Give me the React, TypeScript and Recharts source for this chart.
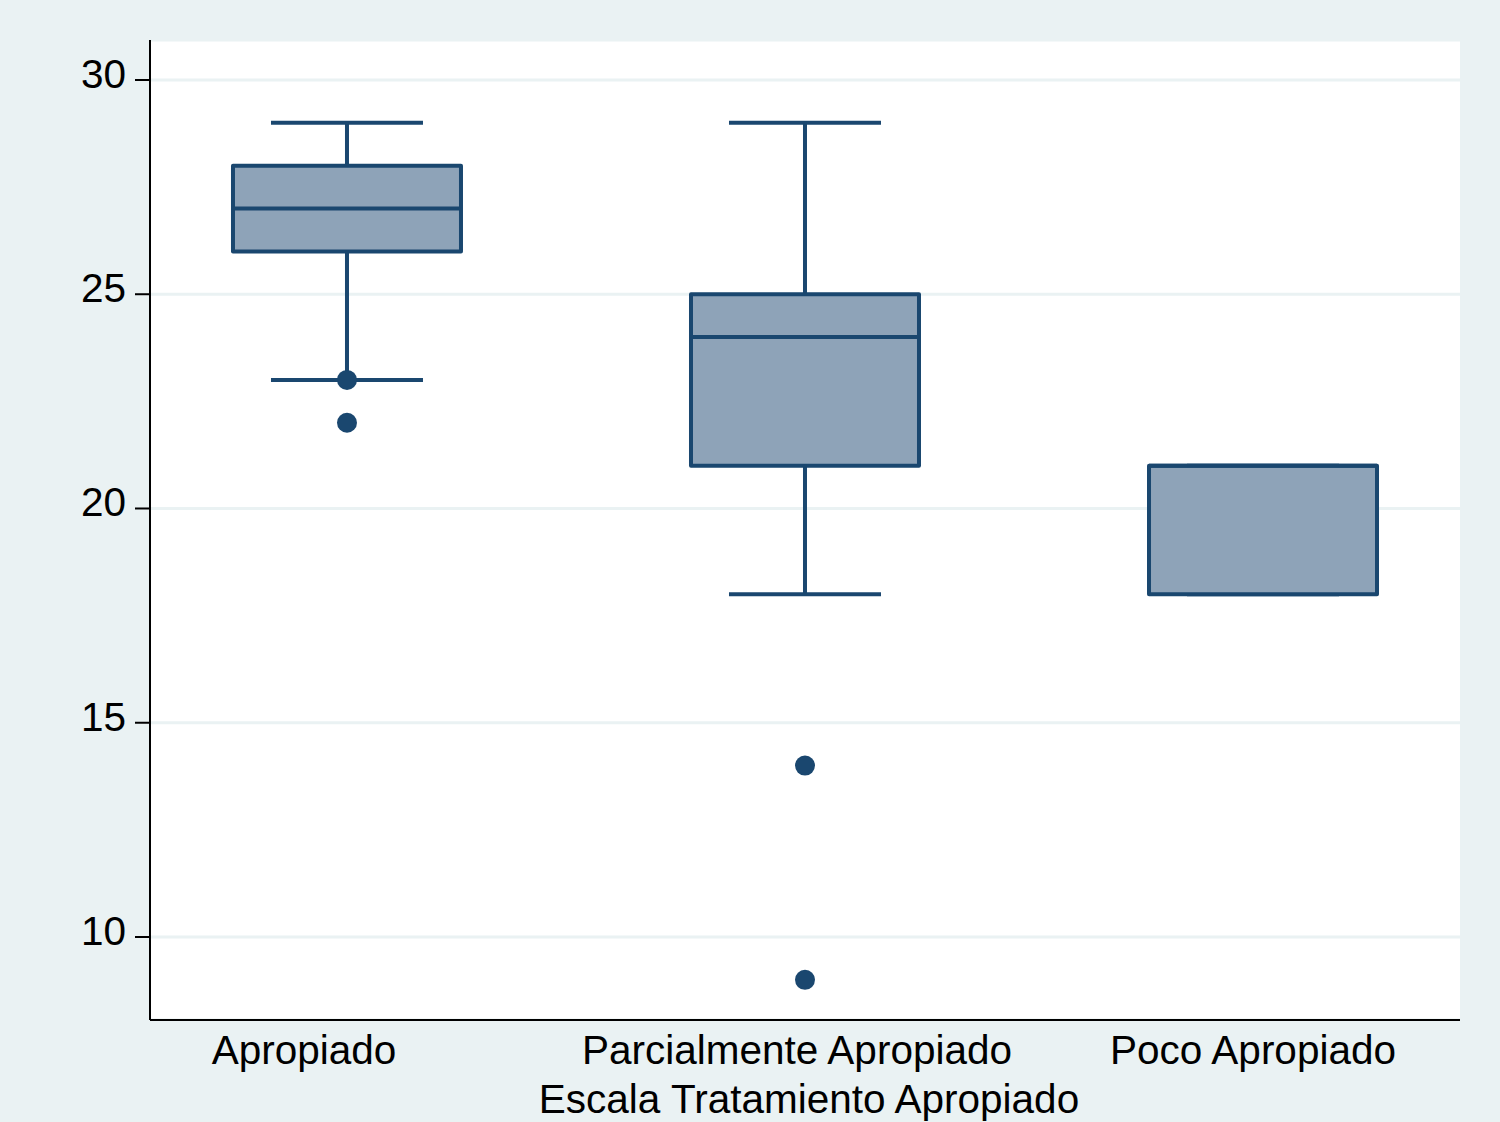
import React from "react";
import {
  ComposedChart,
  Bar,
  Scatter,
  XAxis,
  YAxis,
  CartesianGrid,
} from "recharts";

const categories = ["Apropiado", "Parcialmente Apropiado", "Poco Apropiado"];
const whiskerLow = [23, 18, 18];
const quartile1 = [26, 21, 18];
const medians = [27, 24, 21];
const quartile3 = [28, 25, 21];
const whiskerHigh = [29, 29, 21];

const outlierGroup = [1, 1, 2, 2];
const outlierValues = [23, 22, 14, 9];

const yTicks = [10, 15, 20, 25, 30];

const boxData = categories.map((name, i) => ({
  pos: i + 1,
  name,
  box: [quartile1[i], quartile3[i]],
  whisker: [whiskerLow[i], whiskerHigh[i]],
  q1: quartile1[i],
  q3: quartile3[i],
  median: medians[i],
}));

const outliers = outlierValues.map((v, i) => ({ pos: outlierGroup[i], value: v }));

const NAVY = "#1a476f";
const FILL = "#8ea3b8";
const BG = "#eaf2f3";
const FONT = "'Liberation Sans', Arial, Helvetica, sans-serif";

// small nudges so the labels sit where Stata put them
const labelShift = [-43, -8, -10];

function BoxShape(props: any) {
  const { x, y, width, height, payload } = props;
  const span = payload.q3 - payload.q1;
  const my = span > 0 ? y + ((payload.q3 - payload.median) / span) * height : y;
  return (
    <g>
      <rect x={x} y={y} width={width} height={height} fill={FILL} stroke={NAVY} strokeWidth={4} strokeLinejoin="round" />
      <line x1={x} x2={x + width} y1={my} y2={my} stroke={NAVY} strokeWidth={4} />
    </g>
  );
}

function WhiskerShape(props: any) {
  const { x, y, width, height } = props;
  const cx = x + width / 2;
  const cap = (width * 2) / 3;
  return (
    <g stroke={NAVY} strokeWidth={4}>
      <line x1={cx} x2={cx} y1={y} y2={y + height} />
      <line x1={cx - cap / 2} x2={cx + cap / 2} y1={y} y2={y} />
      <line x1={cx - cap / 2} x2={cx + cap / 2} y1={y + height} y2={y + height} />
    </g>
  );
}

function Dot(props: any) {
  const { cx, cy } = props;
  return <circle cx={cx} cy={cy} r={10} fill={NAVY} />;
}

function XTick(props: any) {
  const { x, y, payload, index } = props;
  return (
    <text x={x + (labelShift[index] || 0)} y={y + 44} textAnchor="middle" fontSize={40.5} fill="#000" fontFamily={FONT}>
      {categories[payload.value - 1]}
    </text>
  );
}

function YTick(props: any) {
  const { x, y, payload } = props;
  return (
    <text x={x + 1} y={y + 8} textAnchor="end" fontSize={40.5} fill="#000" fontFamily={FONT}>
      {payload.value}
    </text>
  );
}

function AxisTitle(props: any) {
  const { viewBox } = props;
  return (
    <text
      x={viewBox.x + viewBox.width / 2 + 4}
      y={viewBox.y + 93}
      textAnchor="middle"
      fontSize={40.5}
      fill="#000"
      fontFamily={FONT}
    >
      Escala Tratamiento Apropiado
    </text>
  );
}

export default function App() {
  const xDomain = [0.5699, 3.4301];
  return (
    <div style={{ position: "fixed", left: 0, top: 0, width: 1500, height: 1122, background: BG }}>
      <ComposedChart
        width={1500}
        height={1122}
        data={boxData}
        margin={{ top: 40, right: 40, bottom: 0, left: 0 }}
      >
        <CartesianGrid vertical={false} fill="#ffffff" stroke={BG} strokeWidth={3} />
        <XAxis
          xAxisId="main"
          dataKey="pos"
          type="number"
          domain={xDomain}
          ticks={[1, 2, 3]}
          allowDataOverflow
          height={102}
          tickLine={false}
          tickSize={0}
          tickMargin={0}
          axisLine={{ stroke: "#000", strokeWidth: 2 }}
          tick={<XTick />}
          label={<AxisTitle />}
        />
        <XAxis xAxisId="whisk" dataKey="pos" type="number" domain={xDomain} ticks={[1, 2, 3]} allowDataOverflow hide />
        <YAxis
          type="number"
          domain={[8.063, 30.933]}
          ticks={yTicks}
          allowDataOverflow
          width={150}
          tickSize={15}
          tickMargin={10}
          tickLine={{ stroke: "#000", strokeWidth: 2 }}
          axisLine={{ stroke: "#000", strokeWidth: 2 }}
          tick={<YTick />}
        />
        <Bar xAxisId="whisk" dataKey="whisker" barSize={228} shape={<WhiskerShape />} isAnimationActive={false} />
        <Bar xAxisId="main" dataKey="box" barSize={228} shape={<BoxShape />} isAnimationActive={false} />
        <Scatter xAxisId="main" data={outliers} dataKey="value" shape={<Dot />} isAnimationActive={false} />
      </ComposedChart>
    </div>
  );
}
